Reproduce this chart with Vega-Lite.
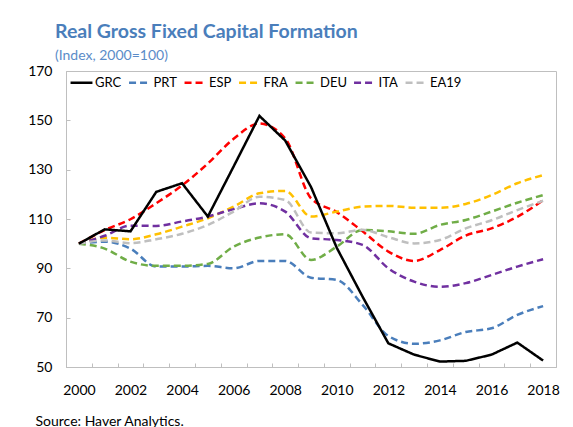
{
  "$schema": "https://vega.github.io/schema/vega-lite/v6.json",
  "width": 490,
  "height": 296,
  "padding": {"left": 27, "top": 21, "right": 5, "bottom": 5},
  "background": "white",
  "title": {
    "text": "Real Gross Fixed Capital Formation",
    "subtitle": "(Index, 2000=100)",
    "anchor": "start",
    "frame": "group",
    "dx": -11,
    "font": "Lato",
    "fontSize": 19.5,
    "fontWeight": "bold",
    "color": "#4A7EBB",
    "subtitleFont": "Lato",
    "subtitleFontSize": 14,
    "subtitleColor": "#5B8CC8",
    "subtitlePadding": 7,
    "offset": 0
  },
  "config": {
    "font": "Lato",
    "view": {"stroke": "#BFBFBF", "strokeWidth": 1}
  },
  "data": {
    "values": [
      {"year": 2000, "country": "GRC", "value": 100}, {"year": 2001, "country": "GRC", "value": 105.8}, {"year": 2002, "country": "GRC", "value": 105}, {"year": 2003, "country": "GRC", "value": 121}, {"year": 2004, "country": "GRC", "value": 124.5}, {"year": 2005, "country": "GRC", "value": 111}, {"year": 2006, "country": "GRC", "value": 131.3}, {"year": 2007, "country": "GRC", "value": 151.8}, {"year": 2008, "country": "GRC", "value": 141.8}, {"year": 2009, "country": "GRC", "value": 123}, {"year": 2010, "country": "GRC", "value": 98.3}, {"year": 2011, "country": "GRC", "value": 78.5}, {"year": 2012, "country": "GRC", "value": 59.6}, {"year": 2013, "country": "GRC", "value": 55}, {"year": 2014, "country": "GRC", "value": 52.2}, {"year": 2015, "country": "GRC", "value": 52.5}, {"year": 2016, "country": "GRC", "value": 55}, {"year": 2017, "country": "GRC", "value": 59.9}, {"year": 2018, "country": "GRC", "value": 52.6},
      {"year": 2000, "country": "PRT", "value": 100}, {"year": 2001, "country": "PRT", "value": 100.8}, {"year": 2002, "country": "PRT", "value": 98}, {"year": 2003, "country": "PRT", "value": 90.7}, {"year": 2004, "country": "PRT", "value": 90.7}, {"year": 2005, "country": "PRT", "value": 91}, {"year": 2006, "country": "PRT", "value": 90}, {"year": 2007, "country": "PRT", "value": 93}, {"year": 2008, "country": "PRT", "value": 93}, {"year": 2009, "country": "PRT", "value": 86.2}, {"year": 2010, "country": "PRT", "value": 85.3}, {"year": 2011, "country": "PRT", "value": 75.2}, {"year": 2012, "country": "PRT", "value": 62.6}, {"year": 2013, "country": "PRT", "value": 59.4}, {"year": 2014, "country": "PRT", "value": 60.8}, {"year": 2015, "country": "PRT", "value": 64.2}, {"year": 2016, "country": "PRT", "value": 65.7}, {"year": 2017, "country": "PRT", "value": 71.1}, {"year": 2018, "country": "PRT", "value": 74.7},
      {"year": 2000, "country": "ESP", "value": 100}, {"year": 2001, "country": "ESP", "value": 105.5}, {"year": 2002, "country": "ESP", "value": 109.9}, {"year": 2003, "country": "ESP", "value": 116.4}, {"year": 2004, "country": "ESP", "value": 123.6}, {"year": 2005, "country": "ESP", "value": 132.5}, {"year": 2006, "country": "ESP", "value": 142.5}, {"year": 2007, "country": "ESP", "value": 148.7}, {"year": 2008, "country": "ESP", "value": 142.7}, {"year": 2009, "country": "ESP", "value": 118.4}, {"year": 2010, "country": "ESP", "value": 112.8}, {"year": 2011, "country": "ESP", "value": 105}, {"year": 2012, "country": "ESP", "value": 96.8}, {"year": 2013, "country": "ESP", "value": 93}, {"year": 2014, "country": "ESP", "value": 97.4}, {"year": 2015, "country": "ESP", "value": 103.3}, {"year": 2016, "country": "ESP", "value": 106.2}, {"year": 2017, "country": "ESP", "value": 110.9}, {"year": 2018, "country": "ESP", "value": 117.6},
      {"year": 2000, "country": "FRA", "value": 100}, {"year": 2001, "country": "FRA", "value": 102.4}, {"year": 2002, "country": "FRA", "value": 101.8}, {"year": 2003, "country": "FRA", "value": 103.8}, {"year": 2004, "country": "FRA", "value": 106.9}, {"year": 2005, "country": "FRA", "value": 110.3}, {"year": 2006, "country": "FRA", "value": 115}, {"year": 2007, "country": "FRA", "value": 120.4}, {"year": 2008, "country": "FRA", "value": 121.4}, {"year": 2009, "country": "FRA", "value": 111}, {"year": 2010, "country": "FRA", "value": 113}, {"year": 2011, "country": "FRA", "value": 115}, {"year": 2012, "country": "FRA", "value": 115.3}, {"year": 2013, "country": "FRA", "value": 114.6}, {"year": 2014, "country": "FRA", "value": 114.6}, {"year": 2015, "country": "FRA", "value": 116.1}, {"year": 2016, "country": "FRA", "value": 119.7}, {"year": 2017, "country": "FRA", "value": 124.5}, {"year": 2018, "country": "FRA", "value": 127.8},
      {"year": 2000, "country": "DEU", "value": 100}, {"year": 2001, "country": "DEU", "value": 98}, {"year": 2002, "country": "DEU", "value": 92.7}, {"year": 2003, "country": "DEU", "value": 91}, {"year": 2004, "country": "DEU", "value": 91}, {"year": 2005, "country": "DEU", "value": 91.8}, {"year": 2006, "country": "DEU", "value": 98.8}, {"year": 2007, "country": "DEU", "value": 102.5}, {"year": 2008, "country": "DEU", "value": 103.8}, {"year": 2009, "country": "DEU", "value": 93.4}, {"year": 2010, "country": "DEU", "value": 98.8}, {"year": 2011, "country": "DEU", "value": 105.6}, {"year": 2012, "country": "DEU", "value": 105}, {"year": 2013, "country": "DEU", "value": 104}, {"year": 2014, "country": "DEU", "value": 107.6}, {"year": 2015, "country": "DEU", "value": 109.6}, {"year": 2016, "country": "DEU", "value": 113}, {"year": 2017, "country": "DEU", "value": 116.6}, {"year": 2018, "country": "DEU", "value": 119.7},
      {"year": 2000, "country": "ITA", "value": 100}, {"year": 2001, "country": "ITA", "value": 103.2}, {"year": 2002, "country": "ITA", "value": 107.3}, {"year": 2003, "country": "ITA", "value": 107.2}, {"year": 2004, "country": "ITA", "value": 109}, {"year": 2005, "country": "ITA", "value": 111}, {"year": 2006, "country": "ITA", "value": 114}, {"year": 2007, "country": "ITA", "value": 116.4}, {"year": 2008, "country": "ITA", "value": 113}, {"year": 2009, "country": "ITA", "value": 102.2}, {"year": 2010, "country": "ITA", "value": 101.5}, {"year": 2011, "country": "ITA", "value": 99.5}, {"year": 2012, "country": "ITA", "value": 90}, {"year": 2013, "country": "ITA", "value": 84.6}, {"year": 2014, "country": "ITA", "value": 82.5}, {"year": 2015, "country": "ITA", "value": 84}, {"year": 2016, "country": "ITA", "value": 87.3}, {"year": 2017, "country": "ITA", "value": 90.7}, {"year": 2018, "country": "ITA", "value": 93.7},
      {"year": 2000, "country": "EA19", "value": 100}, {"year": 2001, "country": "EA19", "value": 101.3}, {"year": 2002, "country": "EA19", "value": 100.2}, {"year": 2003, "country": "EA19", "value": 101.8}, {"year": 2004, "country": "EA19", "value": 104}, {"year": 2005, "country": "EA19", "value": 107.6}, {"year": 2006, "country": "EA19", "value": 113}, {"year": 2007, "country": "EA19", "value": 119}, {"year": 2008, "country": "EA19", "value": 117.7}, {"year": 2009, "country": "EA19", "value": 104.5}, {"year": 2010, "country": "EA19", "value": 104.2}, {"year": 2011, "country": "EA19", "value": 105.6}, {"year": 2012, "country": "EA19", "value": 102.6}, {"year": 2013, "country": "EA19", "value": 100.1}, {"year": 2014, "country": "EA19", "value": 101.5}, {"year": 2015, "country": "EA19", "value": 106.2}, {"year": 2016, "country": "EA19", "value": 109.5}, {"year": 2017, "country": "EA19", "value": 113.6}, {"year": 2018, "country": "EA19", "value": 117.4}
    ]
  },
  "encoding": {
    "x": {
      "field": "year",
      "type": "ordinal",
      "bandPosition": 0.5,
      "scale": {"type": "band", "paddingInner": 0, "paddingOuter": 0},
      "axis": {
        "labelExpr": "datum.value % 2 == 0 ? datum.label : ''",
        "labelAngle": 0,
        "labelOverlap": false,
        "labelFont": "Lato",
        "labelFontSize": 14,
        "labelColor": "#000000",
        "labelPadding": 20,
        "tickBand": "extent",
        "tickSize": -4,
        "tickColor": "#BFBFBF",
        "domainColor": "#BFBFBF",
        "title": "Source: Haver Analytics.",
        "titleFont": "Lato",
        "titleFontSize": 14,
        "titleFontWeight": "normal",
        "titleColor": "#000000",
        "titleAnchor": "start",
        "titleAlign": "left",
        "titleBaseline": "top",
        "titleX": -31,
        "titleY": 47
      }
    },
    "y": {
      "field": "value",
      "type": "quantitative",
      "scale": {"domain": [50, 170], "nice": false, "zero": false},
      "axis": {
        "values": [50, 70, 90, 110, 130, 150, 170],
        "grid": false,
        "labelFont": "Lato",
        "labelFontSize": 14,
        "labelColor": "#000000",
        "labelPadding": 18,
        "tickSize": -4,
        "tickColor": "#BFBFBF",
        "domainColor": "#BFBFBF",
        "title": null
      }
    },
    "color": {
      "field": "country",
      "type": "nominal",
      "scale": {
        "domain": ["GRC", "PRT", "ESP", "FRA", "DEU", "ITA", "EA19"],
        "range": ["#000000", "#4A7EBB", "#FF0000", "#FFC000", "#70AD47", "#7030A0", "#BFBFBF"]
      },
      "legend": {
        "orient": "none",
        "legendX": 3,
        "legendY": -1,
        "direction": "horizontal",
        "title": null,
        "symbolType": "stroke",
        "symbolStrokeWidth": 2.5,
        "symbolSize": 480,
        "labelFont": "Lato",
        "labelFontSize": 13,
        "labelColor": "#000000",
        "labelOffset": 1,
        "columnPadding": 1.5,
        "padding": 0
      }
    },
    "strokeDash": {
      "field": "country",
      "type": "nominal",
      "scale": {
        "domain": ["GRC", "PRT", "ESP", "FRA", "DEU", "ITA", "EA19"],
        "range": [[1, 0], [7, 4], [7, 4], [7, 4], [7, 4], [7, 4], [7, 4]]
      },
      "legend": {
        "orient": "none",
        "legendX": 3,
        "legendY": -1,
        "direction": "horizontal",
        "title": null,
        "symbolType": "stroke",
        "symbolStrokeWidth": 2.5,
        "symbolSize": 480,
        "labelFont": "Lato",
        "labelFontSize": 13,
        "labelColor": "#000000",
        "labelOffset": 1,
        "columnPadding": 1.5,
        "padding": 0
      }
    }
  },
  "layer": [
    {
      "transform": [{"filter": "datum.country != 'GRC'"}],
      "mark": {"type": "line", "interpolate": "monotone", "strokeWidth": 2.5}
    },
    {
      "transform": [{"filter": "datum.country == 'GRC'"}],
      "mark": {"type": "line", "strokeWidth": 2.5}
    }
  ]
}
